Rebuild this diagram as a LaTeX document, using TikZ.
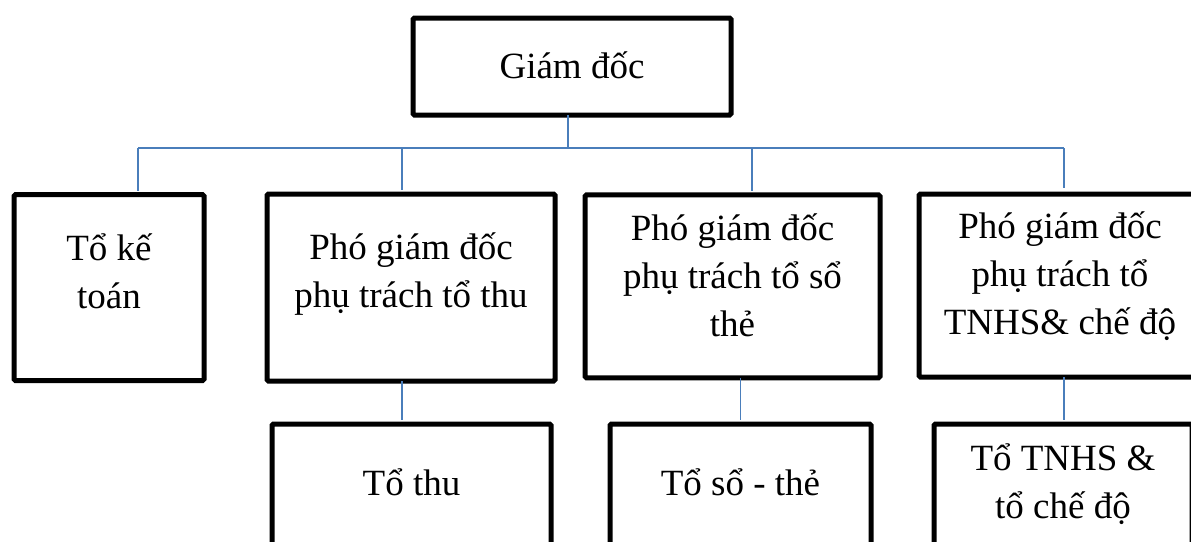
\documentclass[tikz,border=0pt]{standalone}
\usepackage{fontspec}
\setmainfont{Liberation Serif}
\definecolor{lineblue}{RGB}{74,126,187}
\begin{document}
\begin{tikzpicture}[x=1pt,y=-1pt,
  box/.style={draw=black, line width=5pt, rounded corners=1.5pt, inner sep=0pt, outer sep=0pt},
  lbl/.style={font=\fontsize{37}{48}\selectfont, align=center, anchor=base, inner sep=0pt},
  conn/.style={draw=lineblue, line width=1.8pt}]
\useasboundingbox (0,0) rectangle (1191,541);
\clip (0,0) rectangle (1191,541);

% boxes
\node[box, minimum width=318pt, minimum height=97pt] (gd) at (572,66.5) {};
\node[box, minimum width=190pt, minimum height=186pt] (tkt) at (109,287.7) {};
\node[box, minimum width=288pt, minimum height=187pt] (pgd1) at (411,287.5) {};
\node[box, minimum width=295pt, minimum height=183pt] (pgd2) at (732.5,286.4) {};
\node[box, minimum width=282pt, minimum height=183pt] (pgd3) at (1060,285.5) {};
\node[box, minimum width=279pt, minimum height=174pt] (tt) at (411.5,511) {};
\node[box, minimum width=261pt, minimum height=174pt] (tss) at (740.5,511) {};
\node[box, minimum width=258pt, minimum height=174pt] (tnhs) at (1063,511) {};

% texts (base anchor = baseline of the last line)
\node[lbl] (gd-t) at (572,78) {Giám đốc};
\node[lbl] (tkt-t) at (109,308) {Tổ kế\\toán};
\node[lbl] (pgd1-t) at (411,307) {Phó giám đốc\\phụ trách tổ thu};
\node[lbl] (pgd2-t) at (732.5,336) {Phó giám đốc\\phụ trách tổ sổ\\thẻ};
\node[lbl] (pgd3-t) at (1060,334) {Phó giám đốc\\phụ trách tổ\\TNHS\& chế độ};
\node[lbl] (tt-t) at (411.5,495) {Tổ thu};
\node[lbl] (tss-t) at (740.5,495) {Tổ sổ - thẻ};
\node[lbl] (tnhs-t) at (1063,518) {Tổ TNHS \&\\tổ chế độ};

% connectors
\coordinate (b0) at (138,148);
\coordinate (b1) at (402,148);
\coordinate (bg) at (568,148);
\coordinate (b2) at (752,148);
\coordinate (b3) at (1064,148);
\draw[conn] (b0) -- (b3);
\draw[conn] (gd.south -| bg) -- (bg);
\draw[conn, shorten >=4pt] (b0) -- (b0 |- tkt.north);
\draw[conn, shorten >=4pt] (b1) -- (b1 |- pgd1.north);
\draw[conn, shorten >=4pt] (b2) -- (b2 |- pgd2.north);
\draw[conn, shorten >=6pt] (b3) -- (b3 |- pgd3.north);
\draw[conn, shorten >=4pt] (pgd1.south -| b1) -- (tt.north -| b1);
\draw[conn, shorten >=4pt] (pgd2.south -| tss.north) -- (tss.north);
\draw[conn, shorten >=4pt] (pgd3.south -| b3) -- (tnhs.north -| b3);
\end{tikzpicture}
\end{document}
